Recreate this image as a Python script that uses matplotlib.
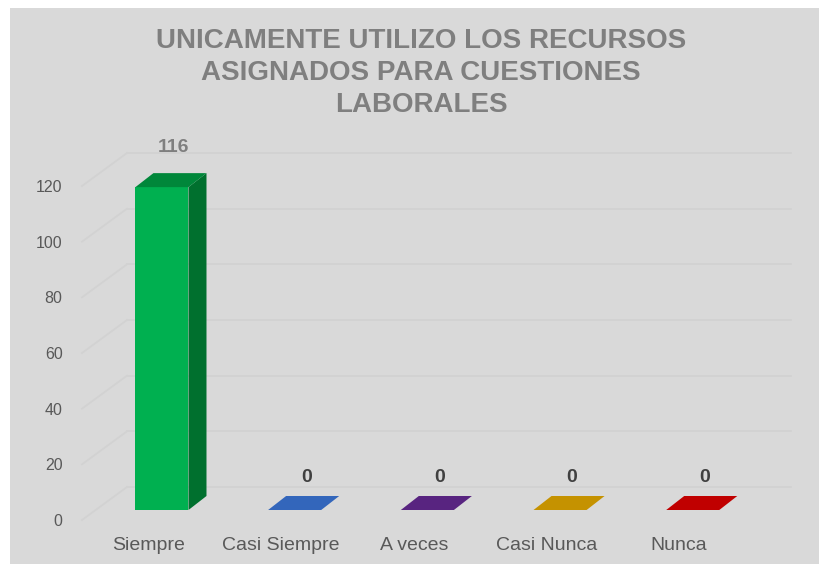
import numpy as np
import matplotlib
matplotlib.use("Agg")
from matplotlib import pyplot as plt
from matplotlib.patches import Polygon, Rectangle
from matplotlib.transforms import offset_copy

categories = ["Siempre", "Casi Siempre", "A veces", "Casi Nunca", "Nunca"]
values = [116, 0, 0, 0, 0]
front_colors = ["#00B050", "#3366BB", "#582480", "#C59200", "#C00000"]
top_colors = ["#00873A", "#3366BB", "#582480", "#C59200", "#C00000"]
side_colors = ["#00702E", "#2A55A0", "#4A1E6C", "#A87C00", "#A00000"]
yticks = [0, 20, 40, 60, 80, 100, 120]
title = "UNICAMENTE UTILIZO LOS RECURSOS\nASIGNADOS PARA CUESTIONES\nLABORALES"

plt.rcParams["font.family"] = ["Liberation Sans", "DejaVu Sans"]

fig = plt.figure(figsize=(8.2, 5.64), dpi=100)
fig.patch.set_facecolor("white")
# gray chart area
fig.patches.append(Rectangle((10 / 820, 0), 1, 556 / 564, transform=fig.transFigure,
                             facecolor="#D9D9D9", edgecolor="none", zorder=-10))

ax = fig.add_axes([82 / 820, 44 / 564, 663.5 / 820, 334 / 564])
ax.set_zorder(1)
ax.set_facecolor("none")
ax.set_xlim(-0.5, 4.5)
ax.set_ylim(0, 120)
for s in ax.spines.values():
    s.set_visible(False)


# 3D depth offsets in pixels (dpi=100)
def off(dx, dy):
    return offset_copy(ax.transData, fig=fig, x=dx, y=dy, units="dots")


back = off(45, 33)
grid_c = "#D2D2D2"
for t in yticks:
    ax.plot([-0.5, 4.5], [t, t], color=grid_c, lw=1.3, transform=back, zorder=1,
            clip_on=False)
    # side wall diagonal
    p0 = ax.transData.transform((-0.5, t))
    x0, y0 = ax.transData.inverted().transform(p0)
    x1, y1 = ax.transData.inverted().transform(p0 + np.array([45, 33]))
    ax.plot([x0, x1], [y0, y1], color=grid_c, lw=1.3, zorder=1, clip_on=False)

ax.set_yticks(yticks)
ax.set_yticklabels([str(t) for t in yticks], fontsize=11.5, color="#595959")
ax.set_xticks(range(len(categories)))
ax.set_xticklabels(categories, fontsize=14, color="#595959")
ax.tick_params(axis="y", length=0, pad=14)
ax.tick_params(axis="x", length=0, pad=12)

w = 0.4
front = off(13.6, 10)
dd = np.array([18, 14])
for i, v in enumerate(values):
    bl = front.transform((i - w / 2, 0))
    br = front.transform((i + w / 2, 0))
    tl = front.transform((i - w / 2, v))
    tr = front.transform((i + w / 2, v))
    if v > 0:
        ax.add_patch(Polygon([br, br + dd, tr + dd, tr], closed=True, transform=None,
                             facecolor=side_colors[i], edgecolor="none", zorder=3,
                             clip_on=False))
        ax.add_patch(Polygon([bl, br, tr, tl], closed=True, transform=None,
                             facecolor=front_colors[i], edgecolor="none", zorder=3,
                             clip_on=False))
    ax.add_patch(Polygon([tl, tr, tr + dd, tl + dd], closed=True, transform=None,
                         facecolor=top_colors[i], edgecolor="none", zorder=4,
                         clip_on=False))
    cx, cy = (tl + tr + dd) / 2
    lx, ly = ax.transData.inverted().transform((cx + 3, cy + (33 if v > 0 else 26)))
    ax.text(lx, ly, str(v), ha="center", va="center", fontsize=14, fontweight="bold",
            color="#7F7F7F" if v > 0 else "#404040", zorder=5, clip_on=False)

fig.text(421 / 820, 1 - 73 / 564, title, ha="center", va="center", fontsize=20,
         fontweight="bold", color="#7F7F7F", linespacing=1.32)

fig.savefig("out.png", dpi=100, facecolor=fig.get_facecolor())
